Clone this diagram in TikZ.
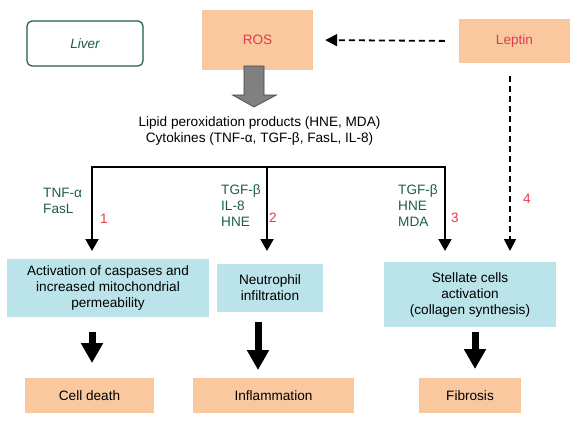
\documentclass[tikz,border=0pt]{standalone}
\usepackage{fontspec}
\setmainfont{Liberation Sans}
\usetikzlibrary{arrows.meta}

\definecolor{peach}{HTML}{FAC89E}
\definecolor{paleblue}{HTML}{BAE3EA}
\definecolor{darkgreen}{HTML}{1E5E3E}
\definecolor{rosered}{HTML}{E23A4C}
\definecolor{arrowgray}{HTML}{808080}

\def \lineWidth {2pt}

\tikzset{
  peachbox/.style={fill=peach, inner sep=0pt, align=center},
  bluebox/.style={fill=paleblue, inner sep=0pt, align=center},
  greenlabel/.style={text=darkgreen, anchor=west, align=left, inner sep=0pt},
  numlabel/.style={text=rosered, inner sep=0pt},
  branch/.style={line width=\lineWidth, {Triangle[length=12pt,width=13pt]}-{Triangle[length=12pt,width=13pt]}},
  stem/.style={line width=\lineWidth, -{Triangle[length=12pt,width=13pt]}},
  dasharrow/.style={line width=1.8pt, dash pattern=on 6pt off 4pt, -{Triangle[length=12pt,width=12pt]}},
  fatarrow/.style={line width=7pt, -{Triangle[length=20pt,width=21pt]}}
}

\begin{document}
\begin{tikzpicture}[x=1pt, y=-1pt, font=\fontsize{13.6}{16}\selectfont]
  \useasboundingbox (0,0) rectangle (581,426);

  % top row
  \node[draw=darkgreen, line width=1.2pt, rounded corners=5pt, minimum width=116pt, minimum height=45pt,
        text=darkgreen, font=\fontsize{13.6}{16}\selectfont\itshape] (liver) at (85,43.5) {Liver};
  \node[peachbox, minimum width=111pt, minimum height=60pt, text=rosered] (ros) at (257.5,40) {ROS};
  \node[peachbox, minimum width=111pt, minimum height=44pt, text=rosered] (leptin) at (514.5,41) {Leptin};

  \draw[dasharrow, shorten <=14pt, shorten >=12pt] (leptin.west) -- (ros.east);

  % gray block arrow
  \coordinate (g) at (254,66);
  \filldraw[fill=arrowgray, draw=black!75, line width=0.6pt]
    (g) ++(-10,0) -- ++(0,29) -- ++(-11.5,0) -- (254,107) -- (276.5,95) -- ++(-12.5,0) -- ++(0,-29) -- cycle;

  \node[align=center, inner sep=0pt] (lipid) at (259.5,130.5)
    {Lipid peroxidation products (HNE, MDA)\\Cytokines (TNF-α, TGF-β, FasL, IL-8)};

  % branches
  \coordinate (b1) at (92,167);
  \coordinate (b2) at (267,167);
  \coordinate (b3) at (445,167);
  \coordinate (e1) at (92,251);
  \coordinate (e2) at (267,251);
  \coordinate (e3) at (445,251);
  \draw[branch] (e1) -- (b1) -- (b3) -- (e3);
  \draw[stem] (b2) -- (e2);

  \coordinate (l0) at (510,76);
  \coordinate (l4) at (510,251);
  \draw[dasharrow] (l0) -- (l4);

  \node[greenlabel] (sig1) at (43,200.5) {TNF-α\\FasL};
  \node[greenlabel] (sig2) at (221,206) {TGF-β\\IL-8\\HNE};
  \node[greenlabel] (sig3) at (398,206) {TGF-β\\HNE\\MDA};
  \node[numlabel] (n1) at (104,219) {1};
  \node[numlabel] (n2) at (273,218) {2};
  \node[numlabel] (n3) at (455,218) {3};
  \node[numlabel] (n4) at (527,199) {4};

  % middle row
  \node[bluebox, minimum width=202pt, minimum height=58pt] (act) at (108,288)
    {Activation of caspases and\\increased mitochondrial\\permeability};
  \node[bluebox, minimum width=106pt, minimum height=48pt] (neut) at (270,288)
    {Neutrophil\\infiltration};
  \node[bluebox, minimum width=172pt, minimum height=65pt] (stell) at (470,294.5)
    {Stellate cells\\activation\\(collagen synthesis)};

  % bottom row
  \node[peachbox, minimum width=129pt, minimum height=35pt] (death) at (89.5,395.5) {Cell death};
  \node[peachbox, minimum width=161pt, minimum height=35pt] (infl) at (273.5,395.5) {Inflammation};
  \node[peachbox, minimum width=102pt, minimum height=35pt] (fib) at (470,395.5) {Fibrosis};

  \coordinate (t1) at (92,332);
  \coordinate (h1) at (92,363);
  \coordinate (t2) at (258,322);
  \coordinate (h2) at (258,370);
  \coordinate (t3) at (475,332);
  \coordinate (h3) at (475,369);
  \draw[fatarrow] (t1) -- (h1);
  \draw[fatarrow] (t2) -- (h2);
  \draw[fatarrow] (t3) -- (h3);
\end{tikzpicture}
\end{document}
